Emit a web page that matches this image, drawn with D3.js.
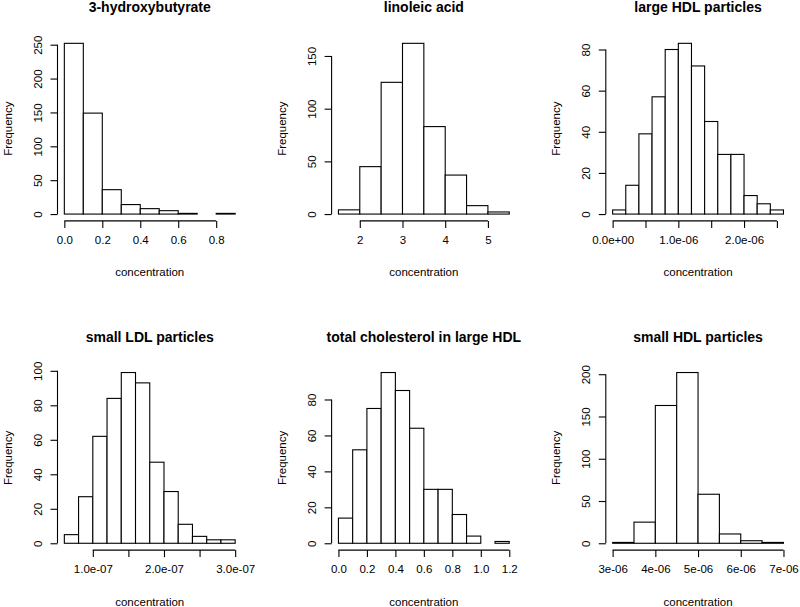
<!DOCTYPE html>
<html><head><meta charset="utf-8">
<script src="https://cdn.jsdelivr.net/npm/d3@7"></script>
<style>body{margin:0;background:#fff}svg text{font-family:"Liberation Sans",Arial,sans-serif;fill:#000}</style>
</head><body><svg id="c" width="800" height="607"></svg>
<script>
const titles = ["3-hydroxybutyrate","linoleic acid","large HDL particles","small LDL particles","total cholesterol in large HDL","small HDL particles"];
const xLabel = "concentration";
const yLabel = "Frequency";

const breaks1 = [0,0.1,0.2,0.3,0.4,0.5,0.6,0.7,0.8,0.9];
const counts1 = [252,149,36,14,8,5,1,0,1];
const xTicks1 = [0,0.2,0.4,0.6,0.8];
const xTickLabels1 = ["0.0","0.2","0.4","0.6","0.8"];
const yTicks1 = [0,50,100,150,200,250];

const breaks2 = [1.5,2,2.5,3,3.5,4,4.5,5,5.5];
const counts2 = [4,45,125,162,83,37,8,2];
const xTicks2 = [2,3,4,5];
const xTickLabels2 = ["2","3","4","5"];
const yTicks2 = [0,50,100,150];

const breaks3 = [0,2e-7,4e-7,6e-7,8e-7,1e-6,1.2e-6,1.4e-6,1.6e-6,1.8e-6,2e-6,2.2e-6,2.4e-6,2.6e-6];
const counts3 = [2,14,39,57,80,83,72,45,29,29,9,5,2];
const xTicks3 = [0,5e-7,1e-6,1.5e-6,2e-6,2.5e-6];
const xTickLabels3 = ["0.0e+00","","1.0e-06","","2.0e-06",""];
const yTicks3 = [0,20,40,60,80];

const breaks4 = [6e-8,8e-8,1e-7,1.2e-7,1.4e-7,1.6e-7,1.8e-7,2e-7,2.2e-7,2.4e-7,2.6e-7,2.8e-7,3e-7];
const counts4 = [5,27,62,84,99,93,47,30,11,4,2,2];
const xTicks4 = [1e-7,1.5e-7,2e-7,2.5e-7,3e-7];
const xTickLabels4 = ["1.0e-07","","2.0e-07","","3.0e-07"];
const yTicks4 = [0,20,40,60,80,100];

const breaks5 = [0,0.1,0.2,0.3,0.4,0.5,0.6,0.7,0.8,0.9,1.0,1.1,1.2];
const counts5 = [14,52,75,95,85,64,30,30,16,4,0,1];
const xTicks5 = [0,0.2,0.4,0.6,0.8,1.0,1.2];
const xTickLabels5 = ["0.0","0.2","0.4","0.6","0.8","1.0","1.2"];
const yTicks5 = [0,20,40,60,80];

const breaks6 = [3e-6,3.5e-6,4e-6,4.5e-6,5e-6,5.5e-6,6e-6,6.5e-6,7e-6];
const counts6 = [1,25,163,202,58,11,3,1];
const xTicks6 = [3e-6,4e-6,5e-6,6e-6,7e-6];
const xTickLabels6 = ["3e-06","4e-06","5e-06","6e-06","7e-06"];
const yTicks6 = [0,50,100,150,200];

const panels = [
  {breaks:breaks1,counts:counts1,xt:xTicks1,xl:xTickLabels1,yt:yTicks1},
  {breaks:breaks2,counts:counts2,xt:xTicks2,xl:xTickLabels2,yt:yTicks2},
  {breaks:breaks3,counts:counts3,xt:xTicks3,xl:xTickLabels3,yt:yTicks3},
  {breaks:breaks4,counts:counts4,xt:xTicks4,xl:xTickLabels4,yt:yTicks4},
  {breaks:breaks5,counts:counts5,xt:xTicks5,xl:xTickLabels5,yt:yTicks5},
  {breaks:breaks6,counts:counts6,xt:xTicks6,xl:xTickLabels6,yt:yTicks6}
];

const colLeft = [57.5, 331.6, 605.8];
const rowTop = [36.5, 365.7];
const W = 184.5, H = 184.4;
const svg = d3.select("#c");

panels.forEach((p, i) => {
  const L = colLeft[i % 3], T = rowTop[Math.floor(i / 3)];
  const x0 = p.breaks[0], x1 = p.breaks[p.breaks.length - 1];
  const xpad = (x1 - x0) * 0.04;
  const ymax = d3.max(p.counts);
  const x = d3.scaleLinear().domain([x0 - xpad, x1 + xpad]).range([L, L + W]);
  const y = d3.scaleLinear().domain([-ymax * 0.04, ymax * 1.04]).range([T + H, T]);
  const g = svg.append("g");

  const bins = p.counts.map((c, k) => ({a: p.breaks[k], b: p.breaks[k + 1], c}));
  g.selectAll("rect").data(bins).enter().append("rect")
    .attr("x", d => x(d.a)).attr("width", d => x(d.b) - x(d.a))
    .attr("y", d => y(d.c)).attr("height", d => y(0) - y(d.c))
    .attr("fill", "#fff").attr("stroke", "#000").attr("stroke-width", 1.1);

  // x axis
  const xa = g.append("g").attr("transform", `translate(0,${T + H})`)
    .call(d3.axisBottom(x).tickValues(p.xt).tickSize(7).tickPadding(8)
      .tickFormat((d, k) => p.xl[k]));
  // y axis
  const ya = g.append("g").attr("transform", `translate(${L},0)`)
    .call(d3.axisLeft(y).tickValues(p.yt).tickSize(7).tickFormat(d3.format("d")));
  [xa, ya].forEach(a => {
    a.select(".domain").remove();
    a.selectAll("line").attr("stroke", "#000").attr("stroke-width", 1.1);
    a.selectAll("text").attr("font-size", "11.5px").attr("fill", "#000");
  });
  xa.append("line").attr("x1", x(p.xt[0])).attr("x2", x(p.xt[p.xt.length - 1]))
    .attr("stroke", "#000").attr("stroke-width", 1.1);
  ya.append("line").attr("y1", y(p.yt[0])).attr("y2", y(p.yt[p.yt.length - 1]))
    .attr("stroke", "#000").attr("stroke-width", 1.1);
  xa.selectAll(".tick text").attr("dy", "0.71em");
  ya.selectAll(".tick text")
    .attr("x", null).attr("dy", null)
    .attr("text-anchor", "middle")
    .attr("transform", "translate(-16,0) rotate(-90)");

  g.append("text").attr("x", L + W / 2).attr("y", T - 29).attr("dy", "0.35em")
    .attr("text-anchor", "middle").attr("font-weight", "bold").attr("font-size", "14px")
    .text(titles[i]);
  g.append("text").attr("x", L + W / 2).attr("y", T + H + 51.5).attr("dy", "0.35em")
    .attr("text-anchor", "middle").attr("font-size", "11.5px").text(xLabel);
  g.append("text").attr("transform", `translate(${L - 50},${T + H / 2}) rotate(-90)`)
    .attr("dy", "0.35em").attr("text-anchor", "middle").attr("font-size", "11.5px").text(yLabel);
});
</script></body></html>
